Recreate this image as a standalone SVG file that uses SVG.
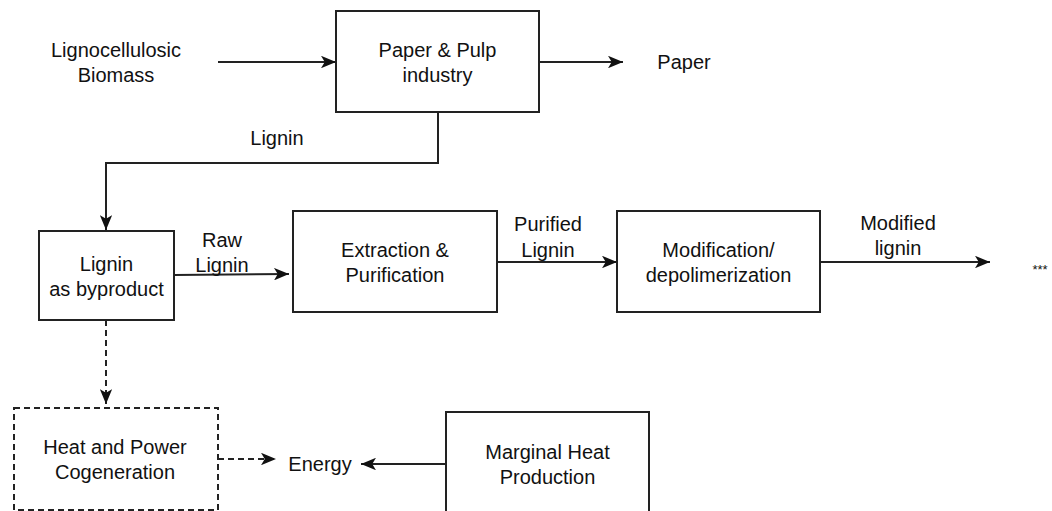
<svg xmlns="http://www.w3.org/2000/svg" width="1052" height="511" viewBox="0 0 1052 511">
<style>
  text { font-family: "Liberation Sans", Arial, sans-serif; font-size: 20px; fill: #111; text-anchor: middle; }
  .box { fill: #fff; stroke: #222; stroke-width: 2; }
  .dbox { fill: #fff; stroke: #222; stroke-width: 2; stroke-dasharray: 6 4; }
  .ln { fill: none; stroke: #222; stroke-width: 2; marker-end: url(#arr); }
  .dln { fill: none; stroke: #222; stroke-width: 2; stroke-dasharray: 6 4; marker-end: url(#arr); }
  .small { font-size: 13px; }
</style>
<defs>
  <marker id="arr" viewBox="0 0 12 10" markerWidth="15" markerHeight="12.5" refX="12" refY="5" markerUnits="userSpaceOnUse" orient="auto">
    <path d="M0,0 L12,5 L0,10 L3,5 Z" fill="#111"/>
  </marker>
</defs>
<rect width="1052" height="511" fill="#fff"/>
<g id="connectors">
  <path class="ln" d="M218,62 L336,62"/>
  <path class="ln" d="M539,62 L623,62"/>
  <path class="ln" d="M438,113 L438,163 L106,163 L106,230"/>
  <path class="ln" d="M174,275 L289,274"/>
  <path class="ln" d="M497,262 L617,262"/>
  <path class="ln" d="M820,262 L990,262"/>
  <path class="dln" d="M106,320 L106,404"/>
  <path class="dln" d="M218,459 L276,459"/>
  <path class="ln" d="M446,464 L361,464"/>
  <text x="277" y="145">Lignin</text>
  <text x="222" y="247">Raw</text>
  <text x="222" y="272">Lignin</text>
  <text x="548" y="231">Purified</text>
  <text x="548" y="257">Lignin</text>
  <text x="898" y="230">Modified</text>
  <text x="898" y="255">lignin</text>
</g>
<g id="biomass">
  <text x="116" y="57">Lignocellulosic</text>
  <text x="116" y="82">Biomass</text>
</g>
<g id="paper-pulp">
  <rect class="box" x="336" y="11" width="203" height="101"/>
  <text x="437.5" y="57">Paper &amp; Pulp</text>
  <text x="437.5" y="82">industry</text>
</g>
<g id="paper">
  <text x="684" y="69">Paper</text>
</g>
<g id="lignin-byproduct">
  <rect class="box" x="39" y="231" width="135" height="89"/>
  <text x="106.5" y="271">Lignin</text>
  <text x="106.5" y="296">as byproduct</text>
</g>
<g id="extraction">
  <rect class="box" x="293" y="211" width="204" height="101"/>
  <text x="395" y="257">Extraction &amp;</text>
  <text x="395" y="282">Purification</text>
</g>
<g id="modification">
  <rect class="box" x="617" y="211" width="203" height="101"/>
  <text x="718.5" y="257">Modification/</text>
  <text x="718.5" y="282">depolimerization</text>
</g>
<g id="ellipsis">
  <text class="small" x="1040" y="274">***</text>
</g>
<g id="chp">
  <rect class="dbox" x="14" y="408" width="204" height="102"/>
  <text x="115" y="454">Heat and Power</text>
  <text x="115" y="479">Cogeneration</text>
</g>
<g id="energy">
  <text x="320" y="471">Energy</text>
</g>
<g id="marginal">
  <rect class="box" x="446" y="412" width="203" height="110"/>
  <text x="547.5" y="459">Marginal Heat</text>
  <text x="547.5" y="484">Production</text>
</g>
</svg>
